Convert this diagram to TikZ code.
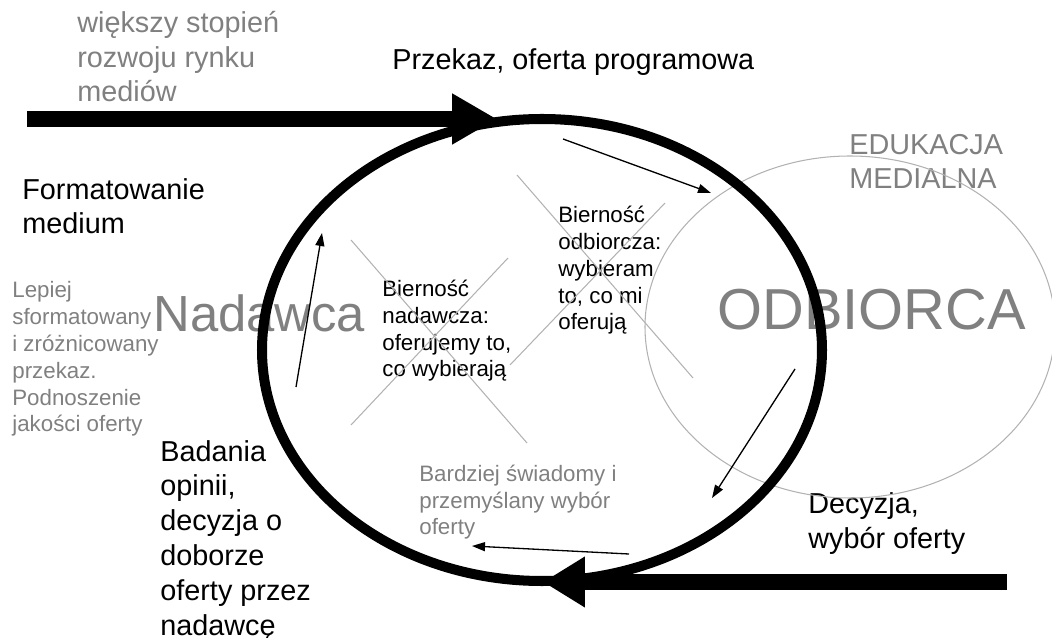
\documentclass[tikz,border=0pt]{standalone}
\usepackage{fontspec}
\setmainfont{Liberation Sans}
\usetikzlibrary{arrows.meta}

\begin{document}
\begin{tikzpicture}[x=0.02cm, y=-0.02cm,
    big/.style={anchor=base west, inner sep=0pt, align=left, font=\fontsize{16.4}{19.8}\selectfont},
    small/.style={anchor=base west, inner sep=0pt, align=left, font=\fontsize{12.7}{15.3}\selectfont},
    thin/.style={line width=0.75pt, -{Triangle[length=0.26cm, width=0.18cm]}},
    cross/.style={gray!60, line width=0.6pt},
    flow/.style={line width=9pt}]
    \useasboundingbox (0,0) rectangle (1052,638);

    % Labels (placed at the baseline of their last line)
    \node[big, gray] (rynek) at (77,102) {większy stopień\\rozwoju rynku\\mediów};
    \node[big] (przekaz) at (392,70) {Przekaz, oferta programowa};
    \node[big] (format) at (22,234) {Formatowanie\\medium};
    \node[small, gray] (lepiej) at (12,432) {Lepiej\\sformatowany\\i zróżnicowany\\przekaz.\\Podnoszenie\\jakości oferty};
    \node[anchor=base west, inner sep=0pt, gray, font=\fontsize{28.9}{34}\selectfont] (nadawca) at (153,332) {Nadawca};
    \node[small] (biernN) at (382,377) {Bierność\\nadawcza:\\oferujemy to,\\co wybierają};
    \node[small] (biernO) at (558,330) {Bierność\\odbiorcza:\\wybieram\\to, co mi\\oferują};
    \node[big, gray] (eduk) at (849,189) {EDUKACJA\\MEDIALNA};
    \node[anchor=base west, inner sep=0pt, gray, font=\fontsize{32.9}{38}\selectfont] (odbiorca) at (717,330) {ODBIORCA};
    \node[big] (badania) at (160,635) {Badania\\opinii,\\decyzja o\\doborze\\oferty przez\\nadawcę};
    \node[small, gray] (bardziej) at (419,535) {Bardziej świadomy i\\przemyślany wybór\\oferty};
    \node[big] (decyzja) at (808,548) {Decyzja,\\wybór oferty};

    % Crosses
    \draw[cross] (351,240) -- (527,443);
    \draw[cross] (508,258) -- (351,425);
    \draw[cross] (517,175) -- (693,378);
    \draw[cross] (665,203) -- (510,365);

    % Odbiorca circle
    \begin{scope}
        \clip (0,0) rectangle (1052,638);
        \draw[gray!60, line width=0.6pt] (850,327) ellipse [x radius=205, y radius=171];
    \end{scope}

    % Main loop
    \draw[line width=5.7pt] (542,350) ellipse [x radius=280, y radius=231];

    % Thick arrows
    \coordinate (inStart) at (27,119);
    \coordinate (inEnd) at (497,119);
    \coordinate (outStart) at (1007,582);
    \coordinate (outEnd) at (543,582);
    \draw[flow, -{Triangle[length=0.9cm, width=0.96cm]}] (inStart) -- (inEnd);
    \draw[flow, -{Triangle[length=0.84cm, width=0.96cm]}] (outStart) -- (outEnd);

    % Thin arrows
    \coordinate (a1) at (563,139);
    \coordinate (b1) at (711,193);
    \coordinate (a2) at (795,369);
    \coordinate (b2) at (712,498);
    \coordinate (a3) at (629,554);
    \coordinate (b3) at (472,546);
    \coordinate (a4) at (296,387);
    \coordinate (b4) at (322,233);
    \draw[thin] (a1) -- (b1);
    \draw[thin] (a2) -- (b2);
    \draw[thin] (a3) -- (b3);
    \draw[thin] (a4) -- (b4);
\end{tikzpicture}
\end{document}
